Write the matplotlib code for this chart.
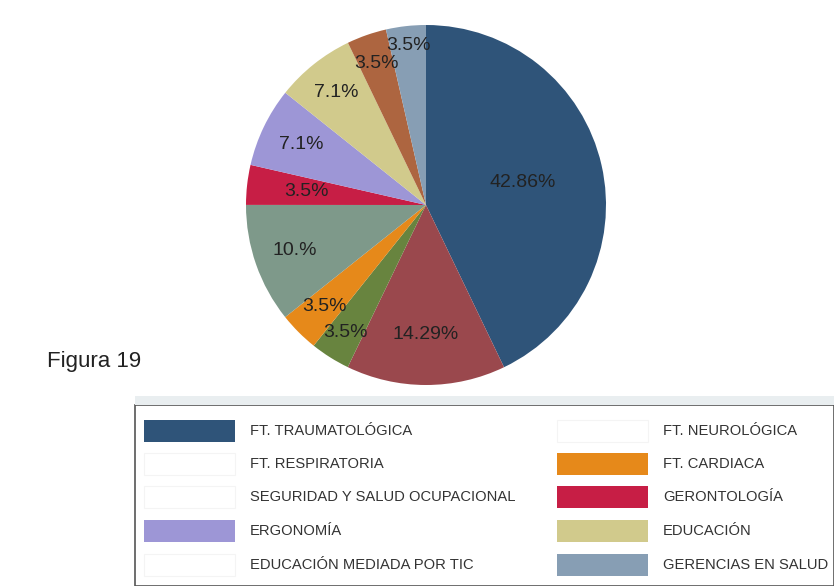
import matplotlib.pyplot as plt
from matplotlib.patches import Rectangle
import numpy as np

plt.rcParams['font.family'] = ['Liberation Sans', 'DejaVu Sans']

# pie slices, clockwise from 12 o'clock
values = [42.86, 14.29, 3.57, 3.57, 10.71, 3.57, 7.14, 7.14, 3.57, 3.57]
labels = ['42.86%', '14.29%', '3.5%', '3.5%', '10.%', '3.5%', '7.1%', '7.1%', '3.5%', '3.5%']
colors = ['#2f5479', '#9a484d', '#68843f', '#e6891a', '#7e998a',
          '#c71e45', '#9d96d6', '#d1ca8c', '#ad6540', '#879eb4']
# radial position of each label (fraction of radius)
label_dist = [0.55, 0.72, 0.84, 0.80, 0.77, 0.67, 0.77, 0.80, 0.83, 0.89]

# legend entries (two columns)
leg_left = ['FT. TRAUMATOLÓGICA', 'FT. RESPIRATORIA', 'SEGURIDAD Y SALUD OCUPACIONAL',
            'ERGONOMÍA', 'EDUCACIÓN MEDIADA POR TIC']
leg_left_col = ['#2f5479', 'white', 'white', '#9d96d6', 'white']
leg_right = ['FT. NEUROLÓGICA', 'FT. CARDIACA', 'GERONTOLOGÍA', 'EDUCACIÓN', 'GERENCIAS EN SALUD']
leg_right_col = ['white', '#e6891a', '#c71e45', '#d1ca8c', '#879eb4']

W, H = 834, 586
fig = plt.figure(figsize=(W / 100, H / 100), dpi=100)
fig.patch.set_facecolor('white')

# pie
ax = fig.add_axes([246 / W, 201 / H, 360 / W, 360 / H])
wedges, _ = ax.pie(values, colors=colors, startangle=90, counterclock=False,
                   radius=1.0, wedgeprops=dict(linewidth=0))
for w, lab, d in zip(wedges, labels, label_dist):
    mid = np.deg2rad((w.theta1 + w.theta2) / 2)
    ax.text(d * np.cos(mid), d * np.sin(mid), lab, ha='center', va='center',
            fontsize=14, color='#222222')
ax.set_xlim(-1, 1)
ax.set_ylim(-1, 1)
ax.set_aspect('equal')
ax.axis('off')

fig.text(47 / W, 1 - 362 / H, 'Figura 19', fontsize=16, color='#222222', va='center')

# legend panel
lax = fig.add_axes([135 / W, 0, (W - 135) / W, 181 / H])
lax.set_xlim(0, W - 135)
lax.set_ylim(181, 0)
lax.axis('off')
lax.add_patch(Rectangle((0, 0), W - 135, 181, facecolor='white', edgecolor='#555555',
                        linewidth=1.2, clip_on=False))
fig.patches.append(Rectangle((135 / W, 181 / H), (W - 135) / W, 9 / H,
                             transform=fig.transFigure, facecolor='#e9eef0', edgecolor='none'))
row_y = [26, 59, 92, 126, 160]
for col_x, names, cols in [(9, leg_left, leg_left_col), (422, leg_right, leg_right_col)]:
    for y, name, c in zip(row_y, names, cols):
        lax.add_patch(Rectangle((col_x, y - 11), 91, 22, facecolor=c,
                                edgecolor='#f4f4f4' if c == 'white' else 'none', linewidth=0.8))
        lax.text(col_x + 106, y, name, fontsize=10.6, color='#333333', va='center')

fig.savefig('out.png', dpi=100, facecolor='white')
